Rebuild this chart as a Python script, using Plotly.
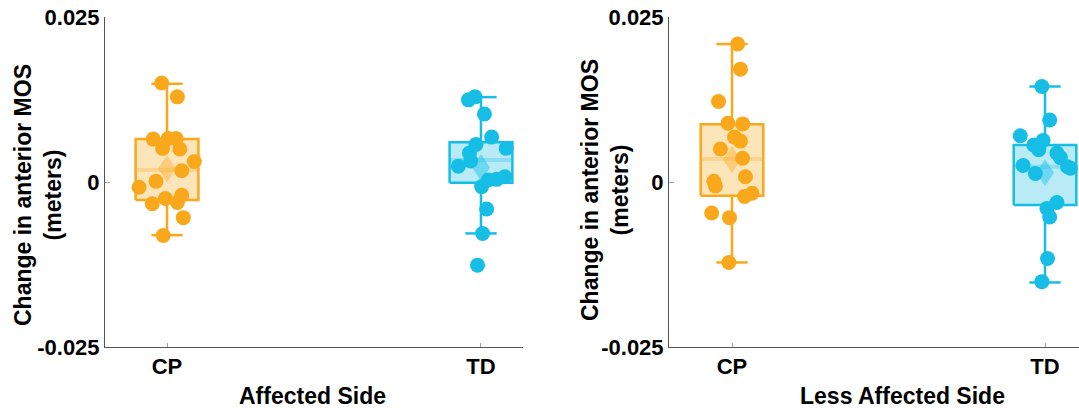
import plotly.graph_objects as go

# ---------------- data ----------------
categories = ["CP", "TD"]
cat_pos = [1, 2]
panel_titles = ["Affected Side", "Less Affected Side"]
y_title = "Change in anterior MOS<br>(meters)"
ytick_vals = [-0.025, 0, 0.025]
ytick_text = ["-0.025", "0", "0.025"]

# Affected side - individual values and horizontal jitter (category units)
aff_cp_vals = [0.0150, 0.0129, 0.0065, 0.0066, 0.0066, 0.0051, 0.0050, 0.0031, 0.0017,
               0.0001, -0.0008, -0.0020, -0.0025, -0.0033, -0.0031, -0.0054, -0.0081]
aff_cp_jit = [-0.017, 0.033, -0.044, 0.004, 0.029, -0.014, 0.041, 0.087, 0.047,
              -0.035, -0.089, 0.047, -0.005, -0.047, 0.033, 0.052, -0.012]
aff_td_vals = [0.01245, 0.0129, 0.0103, 0.0068, 0.0057, 0.0051, 0.0044, 0.0032,
               0.0024, 0.0008, 0.0004, 0.0003, -0.0007, -0.0041, -0.0078, -0.0126]
aff_td_jit = [-0.040, -0.019, 0.011, 0.034, -0.016, 0.080, -0.037, -0.033,
              -0.072, 0.076, 0.050, 0.023, 0.002, 0.018, 0.005, -0.011]

# Less affected side
less_cp_vals = [0.0209, 0.0171, 0.0122, 0.0089, 0.0088, 0.0068, 0.0062, 0.0050, 0.0036,
                0.0008, 0.0001, -0.0006, -0.0017, -0.0022, -0.0047, -0.0054, -0.0122]
less_cp_jit = [0.018, 0.027, -0.043, -0.013, 0.034, 0.008, 0.027, -0.037, 0.034,
               0.043, -0.058, -0.053, 0.064, 0.040, -0.065, -0.008, -0.010]
less_td_vals = [0.01447, 0.0094, 0.0070, 0.0056, 0.0063, 0.0049, 0.0044, 0.0037, 0.0025,
                0.0013, 0.0023, 0.0021, -0.0031, -0.0040, -0.0053, -0.0116, -0.0151]
less_td_jit = [-0.010, 0.015, -0.079, -0.036, -0.006, -0.020, 0.038, 0.049, -0.070,
               -0.031, 0.072, 0.081, 0.038, 0.006, 0.015, 0.008, -0.010]

# Box statistics [CP, TD]
aff_q1 = [-0.00273, -0.0001]
aff_med = [0.00182, 0.00334]
aff_q3 = [0.00653, 0.00603]
aff_lo = [-0.00805, -0.00779]
aff_hi = [0.01488, 0.01286]
aff_mean = [0.0020, 0.0022]

less_q1 = [-0.00208, -0.00349]
less_med = [0.00349, 0.00232]
less_q3 = [0.00876, 0.00562]
less_lo = [-0.01219, -0.01522]
less_hi = [0.0209, 0.01447]
less_mean = [0.0034, 0.0014]

# ---------------- style ----------------
colors = ["rgb(249,168,28)", "rgb(22,190,230)"]
fills = ["rgba(249,168,28,0.3)", "rgba(22,190,230,0.3)"]
bands = ["rgba(249,168,28,0.28)", "rgba(22,190,230,0.28)"]
diam_fill = ["rgba(249,168,28,0.40)", "rgba(22,190,230,0.45)"]
BOX_HW = 0.10
CAP_HW = 0.05
DIA_HW = 0.029
DIA_HH = 0.00205
FONT = "Liberation Sans, Arial, sans-serif"
AXCOL = "rgb(85,85,85)"

fig = go.Figure()

panels = [
    dict(xa="x", ya="y", vals=[aff_cp_vals, aff_td_vals], jit=[aff_cp_jit, aff_td_jit],
         q1=aff_q1, med=aff_med, q3=aff_q3, lo=aff_lo, hi=aff_hi, mean=aff_mean),
    dict(xa="x2", ya="y2", vals=[less_cp_vals, less_td_vals], jit=[less_cp_jit, less_td_jit],
         q1=less_q1, med=less_med, q3=less_q3, lo=less_lo, hi=less_hi, mean=less_mean),
]

for p in panels:
    for i, c in enumerate(cat_pos):
        col = colors[i]
        # whiskers
        fig.add_trace(go.Scatter(
            x=[c, c, None, c, c, None, c - CAP_HW, c + CAP_HW, None, c - CAP_HW, c + CAP_HW],
            y=[p["q3"][i], p["hi"][i], None, p["q1"][i], p["lo"][i], None,
               p["hi"][i], p["hi"][i], None, p["lo"][i], p["lo"][i]],
            mode="lines", line=dict(color=col, width=2.5),
            xaxis=p["xa"], yaxis=p["ya"], showlegend=False, hoverinfo="skip"))
        # box
        fig.add_trace(go.Scatter(
            x=[c - BOX_HW, c + BOX_HW, c + BOX_HW, c - BOX_HW, c - BOX_HW],
            y=[p["q1"][i], p["q1"][i], p["q3"][i], p["q3"][i], p["q1"][i]],
            mode="lines", fill="toself", fillcolor=fills[i],
            line=dict(color=col, width=2.5),
            xaxis=p["xa"], yaxis=p["ya"], showlegend=False, hoverinfo="skip"))
        # median band
        fig.add_trace(go.Scatter(
            x=[c - BOX_HW, c + BOX_HW], y=[p["med"][i], p["med"][i]],
            mode="lines", line=dict(color=bands[i], width=4),
            xaxis=p["xa"], yaxis=p["ya"], showlegend=False, hoverinfo="skip"))
        # mean diamond
        m = p["mean"][i]
        fig.add_trace(go.Scatter(
            x=[c, c + DIA_HW, c, c - DIA_HW, c],
            y=[m + DIA_HH, m, m - DIA_HH, m, m + DIA_HH],
            mode="lines", fill="toself", fillcolor=diam_fill[i],
            line=dict(width=0), xaxis=p["xa"], yaxis=p["ya"],
            showlegend=False, hoverinfo="skip"))
        # points
        fig.add_trace(go.Scatter(
            x=[c + j for j in p["jit"][i]], y=p["vals"][i],
            mode="markers", marker=dict(color=col, size=15, line=dict(width=0)),
            xaxis=p["xa"], yaxis=p["ya"], showlegend=False))

ydom = [61 / 408, 391 / 408]
common_x = dict(tickvals=cat_pos, ticktext=categories, showgrid=False, zeroline=False,
                showline=True, linecolor=AXCOL, linewidth=1, ticks="inside", ticklen=4,
                tickcolor="rgb(160,160,160)", automargin=False,
                tickfont=dict(family=FONT, size=22, color="black", weight="bold"))
common_y = dict(range=[-0.025, 0.025], tickvals=ytick_vals, ticktext=ytick_text,
                showgrid=False, zeroline=False, showline=True, linecolor=AXCOL, linewidth=1,
                ticks="inside", ticklen=5, tickcolor="rgb(160,160,160)", domain=ydom,
                automargin=False,
                tickfont=dict(family=FONT, size=22, color="black", weight="bold"))

fig.update_layout(
    width=1079, height=408,
    margin=dict(l=0, r=0, t=0, b=0, autoexpand=False),
    paper_bgcolor="white", plot_bgcolor="white",
    xaxis=dict(common_x, domain=[105 / 1079, 523 / 1079], range=[0.8025, 2.1338], anchor="y"),
    yaxis=dict(common_y, anchor="x"),
    xaxis2=dict(common_x, domain=[669 / 1079, 1.0], range=[0.7987, 2.1086], anchor="y2"),
    yaxis2=dict(common_y, anchor="x2"),
    annotations=[
        dict(text=y_title, xref="paper", yref="paper", x=38 / 1079, y=(408 - 195) / 408,
             textangle=-90, showarrow=False, xanchor="center", yanchor="middle",
             font=dict(family=FONT, size=23, color="black", weight="bold")),
        dict(text=y_title, xref="paper", yref="paper", x=605 / 1079, y=(408 - 190) / 408,
             textangle=-90, showarrow=False, xanchor="center", yanchor="middle",
             font=dict(family=FONT, size=23, color="black", weight="bold")),
        dict(text=panel_titles[0], xref="paper", yref="paper", x=312.5 / 1079, y=(408 - 396) / 408,
             showarrow=False, xanchor="center", yanchor="middle",
             font=dict(family=FONT, size=23, color="black", weight="bold")),
        dict(text=panel_titles[1], xref="paper", yref="paper", x=902.5 / 1079, y=(408 - 396) / 408,
             showarrow=False, xanchor="center", yanchor="middle",
             font=dict(family=FONT, size=23, color="black", weight="bold")),
    ],
)

fig.write_html("out.html")
